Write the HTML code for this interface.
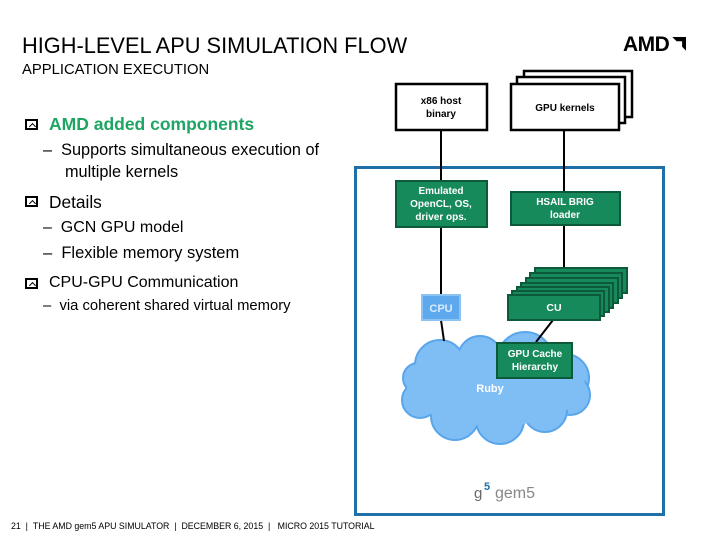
<!DOCTYPE html>
<html><head><meta charset="utf-8"><style>
body{margin:0;width:720px;height:540px;background:#fff;position:relative;overflow:hidden;font-family:"Liberation Sans",sans-serif}
.t{position:absolute;white-space:nowrap;color:#000}
.bx{position:absolute;width:13px;height:11px;border:2px solid #000;box-sizing:border-box}
.bx:after{content:"";position:absolute;width:4px;height:4px;border-left:1.5px solid #000;border-top:1.5px solid #000;transform:rotate(45deg);left:2.5px;top:2.5px}
</style></head><body>
<div class="t" style="left:22px;top:33px;font-size:21.8px">HIGH-LEVEL APU SIMULATION FLOW</div>
<div class="t" style="left:22px;top:62px;font-size:14.8px">APPLICATION EXECUTION</div>
<div class="t" style="left:623px;top:33px;font-size:21px;font-weight:bold;letter-spacing:-0.5px">AMD<span style="display:inline-block;width:14px;height:14px;background:#000;margin-left:3px;clip-path:polygon(0 0,100% 0,100% 100%,70% 70%,70% 30%,30% 30%,0 0);"></span></div>

<div class="bx" style="left:25px;top:119px"></div>
<div class="t" style="left:49px;top:114px;font-size:17.5px;font-weight:bold;color:#1ea564">AMD added components</div>
<div class="t" style="left:43px;top:141px;font-size:16.3px">–&nbsp; Supports simultaneous execution of</div>
<div class="t" style="left:65px;top:163px;font-size:16.3px">multiple kernels</div>
<div class="bx" style="left:25px;top:196px"></div>
<div class="t" style="left:49px;top:192px;font-size:17.3px">Details</div>
<div class="t" style="left:43px;top:219px;font-size:16px">–&nbsp; GCN GPU model</div>
<div class="t" style="left:43px;top:244px;font-size:16.5px">–&nbsp; Flexible memory system</div>
<div class="bx" style="left:25px;top:278px"></div>
<div class="t" style="left:49px;top:274px;font-size:16px">CPU-GPU Communication</div>
<div class="t" style="left:43px;top:298px;font-size:14.8px">–&nbsp; via coherent shared virtual memory</div>
<div class="t" style="left:11px;top:521px;font-size:8.8px">21 &nbsp;| &nbsp;THE AMD gem5 APU SIMULATOR &nbsp;| &nbsp;DECEMBER 6, 2015 &nbsp;| &nbsp;&nbsp;MICRO 2015 TUTORIAL</div>

<svg width="720" height="540" style="position:absolute;left:0;top:0" font-family="Liberation Sans, sans-serif" font-weight="bold" font-size="10.5">
<rect x="355.5" y="167.5" width="308" height="347" fill="none" stroke="#1f6fa8" stroke-width="3"/>
<g fill="#7fbdf5" stroke="#5aa6ea" stroke-width="2">
<circle cx="440" cy="365" r="25"/><circle cx="480" cy="358" r="22"/><circle cx="525" cy="360" r="28"/><circle cx="565" cy="378" r="24"/><circle cx="570" cy="395" r="20"/>
<circle cx="545" cy="410" r="22"/><circle cx="500" cy="420" r="24"/><circle cx="455" cy="416" r="24"/><circle cx="420" cy="400" r="18"/><circle cx="418" cy="378" r="15"/>
</g>
<ellipse cx="495" cy="388" rx="88" ry="38" fill="#7fbdf5"/>
<circle cx="440" cy="365" r="24" fill="#7fbdf5"/><circle cx="525" cy="362" r="26" fill="#7fbdf5"/><circle cx="500" cy="418" r="22" fill="#7fbdf5"/><circle cx="455" cy="414" r="22" fill="#7fbdf5"/><circle cx="545" cy="408" r="20" fill="#7fbdf5"/><circle cx="565" cy="385" r="20" fill="#7fbdf5"/>
<text x="490" y="392" fill="#fff" text-anchor="middle" font-size="11">Ruby</text>
<g stroke="#000" stroke-width="2" fill="none">
<path d="M441 130V180M564 130V192M441 227V295M564 225V295M441 320L444 341M553 320L536 342"/>
</g>
<rect x="396" y="84" width="91" height="46" fill="#fff" stroke="#000" stroke-width="2.5"/>
<text x="441" y="104" text-anchor="middle" font-size="10">x86 host</text>
<text x="441" y="117" text-anchor="middle" font-size="10">binary</text>
<rect x="524" y="71" width="108" height="46" fill="#fff" stroke="#000" stroke-width="2.5"/>
<rect x="517" y="77" width="108" height="46" fill="#fff" stroke="#000" stroke-width="2.5"/>
<rect x="511" y="84" width="108" height="46" fill="#fff" stroke="#000" stroke-width="2.5"/>
<text x="565" y="111" text-anchor="middle" font-size="10">GPU kernels</text>
<rect x="396" y="181" width="91" height="46" fill="#178a5c" stroke="#0c5a3a" stroke-width="2"/>
<g fill="#fff" text-anchor="middle" font-size="10"><text x="441" y="194">Emulated</text><text x="441" y="207">OpenCL, OS,</text><text x="441" y="220">driver ops.</text></g>
<rect x="511" y="192" width="109" height="33" fill="#178a5c" stroke="#0c5a3a" stroke-width="2"/>
<g fill="#fff" text-anchor="middle" font-size="10"><text x="565" y="205">HSAIL BRIG</text><text x="565" y="218">loader</text></g>
<g fill="#178a5c" stroke="#0c5a3a" stroke-width="2">
<rect x="535" y="268" width="92" height="25"/><rect x="530" y="273" width="92" height="25"/><rect x="526" y="278" width="92" height="25"/><rect x="521" y="283" width="92" height="25"/><rect x="517" y="287" width="92" height="25"/><rect x="512" y="291" width="92" height="25"/>
<rect x="508" y="295" width="92" height="25"/>
</g>
<text x="554" y="311" fill="#fff" text-anchor="middle" font-size="10.5">CU</text>
<rect x="422" y="295" width="38" height="25" fill="#5ea9ee" stroke="#8cc3f2" stroke-width="2"/>
<text x="441" y="312" fill="#d8ecff" text-anchor="middle" font-size="11">CPU</text>
<rect x="497" y="343" width="75" height="35" fill="#178a5c" stroke="#0c5a3a" stroke-width="2"/>
<g fill="#fff" text-anchor="middle" font-size="10"><text x="535" y="357">GPU Cache</text><text x="535" y="370">Hierarchy</text></g>
<text x="474" y="498" font-weight="normal" font-size="15" fill="#666">g</text>
<text x="484" y="490" font-size="11" fill="#1f6fa8">5</text>
<text x="495" y="498" font-weight="normal" font-size="16" fill="#888">gem5</text>
</svg>
</body></html>
